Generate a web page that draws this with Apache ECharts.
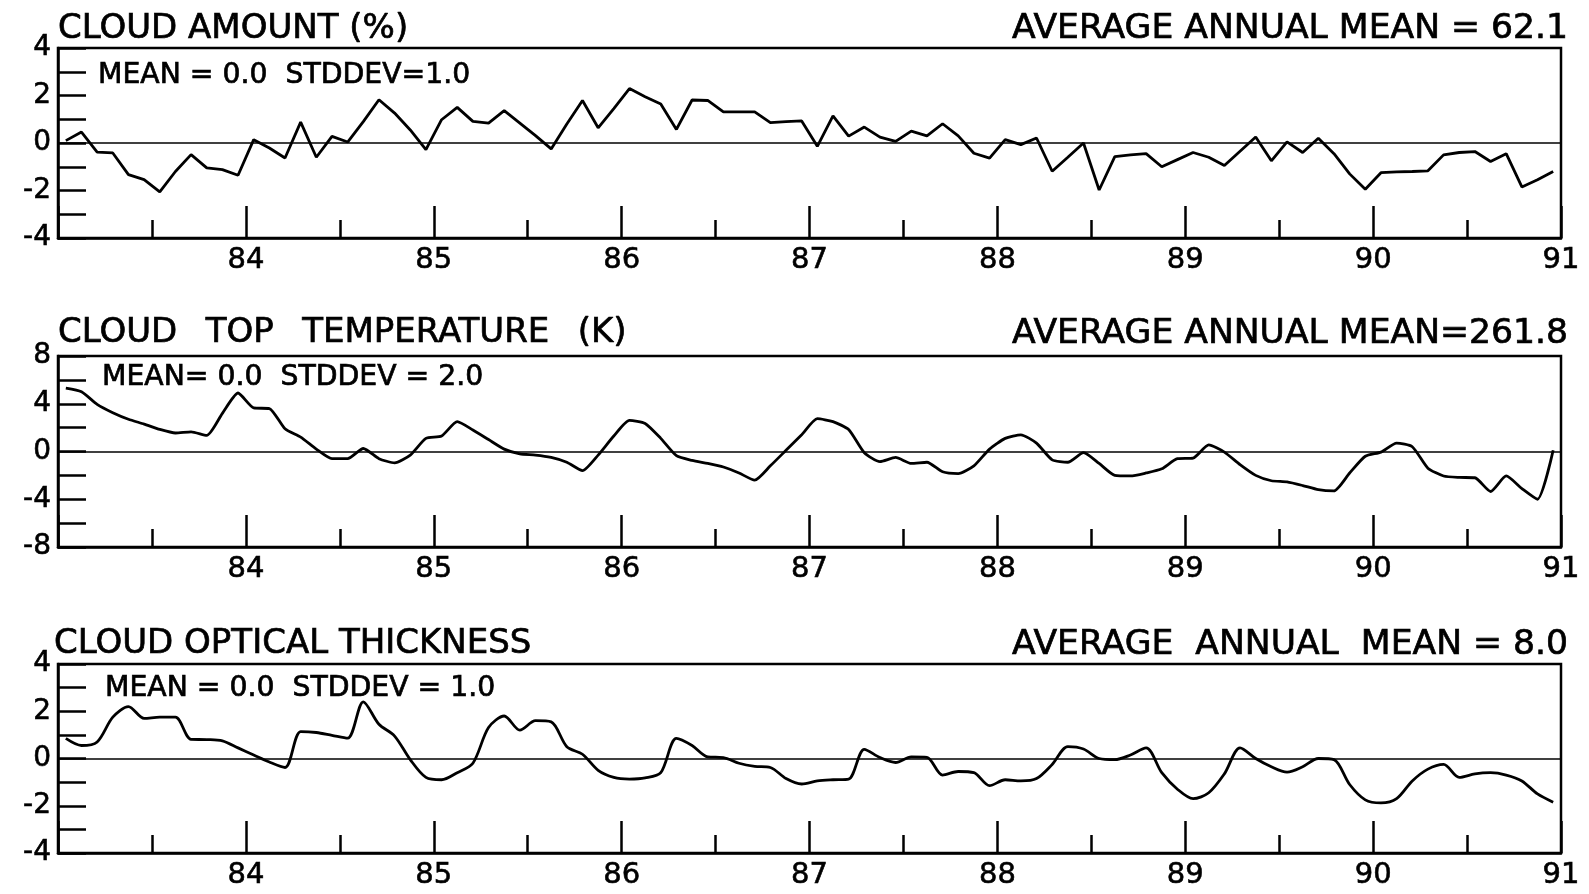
<!DOCTYPE html>
<html><head><meta charset="utf-8">
<script src="https://cdn.jsdelivr.net/npm/echarts@6/dist/echarts.min.js"></script>
<style>html,body{margin:0;padding:0;background:#fff;}#c{width:1589px;height:894px;}</style>
</head><body><div id="c"></div>
<script>
// ---- data ----
const startYear = 83;          // axis starts at 1983.0, monthly mid-month samples
const endYear = 91;
const yearLabels = ['84', '85', '86', '87', '88', '89', '90', '91'];

const cloudAmount = [
  0.1, 0.46, -0.38, -0.42, -1.33, -1.54, -2.06, -1.2, -0.49, -1.05,
  -1.12, -1.36, 0.14, -0.21, -0.63, 0.88, -0.6, 0.28, 0.04, 0.9,
  1.82, 1.26, 0.55, -0.28, 0.98, 1.5, 0.91, 0.84, 1.36, 0.84,
  0.31, -0.25, 0.8, 1.79, 0.64, 1.45, 2.29, 1.95, 1.64, 0.57,
  1.81, 1.79, 1.31, 1.31, 1.31, 0.86, 0.9, 0.93, -0.14, 1.14,
  0.29, 0.67, 0.25, 0.07, 0.5, 0.3, 0.81, 0.3, -0.43, -0.64,
  0.14, -0.07, 0.21, -1.19, -0.6, 0.0, -1.98, -0.57, -0.5, -0.45,
  -1.0, -0.7, -0.4, -0.6, -0.95, -0.35, 0.25, -0.75, 0.05, -0.4,
  0.2, -0.45, -1.3, -1.95, -1.25, -1.22, -1.2, -1.17, -0.5, -0.4,
  -0.36, -0.78, -0.45, -1.85, -1.55, -1.2
];
const cloudTopTemp = [
  5.3, 5.0, 3.95, 3.25, 2.7, 2.3, 1.85, 1.55, 1.65, 1.35,
  3.2, 4.9, 3.65, 3.6, 1.9, 1.2, 0.2, -0.6, -0.6, 0.25,
  -0.6, -0.95, -0.3, 1.1, 1.3, 2.5, 1.8, 1.0, 0.2, -0.2,
  -0.3, -0.5, -0.9, -1.6, -0.3, 1.3, 2.6, 2.35, 1.1, -0.35,
  -0.75, -1.0, -1.3, -1.8, -2.4, -1.2, 0.1, 1.4, 2.75, 2.5,
  1.84, -0.1, -0.85, -0.5, -1.0, -0.9, -1.7, -1.85, -1.2, 0.2,
  1.1, 1.4, 0.7, -0.7, -0.9, -0.1, -1.0, -2.0, -2.05, -1.8,
  -1.45, -0.6, -0.55, 0.55, -0.05, -1.1, -2.0, -2.45, -2.55, -2.85,
  -3.2, -3.3, -1.8, -0.4, -0.05, 0.7, 0.4, -1.4, -2.05, -2.17,
  -2.2, -3.35, -2.05, -3.1, -4.0, 0.1
];
const opticalThickness = [
  0.85, 0.55, 0.7, 1.75, 2.2, 1.7, 1.75, 1.75, 0.81, 0.8,
  0.75, 0.45, 0.15, -0.15, -0.38, 1.14, 1.1, 0.98, 0.86, 2.4,
  1.45, 0.95, -0.05, -0.8, -0.9, -0.6, -0.2, 1.31, 1.8, 1.2,
  1.6, 1.55, 0.5, 0.18, -0.5, -0.8, -0.87, -0.82, -0.6, 0.85,
  0.55, 0.07, 0.04, -0.2, -0.33, -0.38, -0.85, -1.08, -0.95, -0.9,
  -0.87, 0.39, 0.04, -0.17, 0.07, 0.05, -0.7, -0.55, -0.6, -1.15,
  -0.9, -0.95, -0.85, -0.25, 0.5, 0.4, 0.0, -0.05, 0.15, 0.45,
  -0.6, -1.3, -1.7, -1.45, -0.65, 0.45, 0.0, -0.35, -0.58, -0.35,
  0.0, -0.05, -1.1, -1.75, -1.88, -1.7, -0.95, -0.45, -0.25, -0.8,
  -0.65, -0.6, -0.7, -0.95, -1.5, -1.85
];

const panelTitles = ['CLOUD AMOUNT (%)', 'CLOUD \u2009 TOP \u2009 TEMPERATURE \u2009 (K)', 'CLOUD OPTICAL THICKNESS'];
const annualMeans = ['AVERAGE ANNUAL MEAN = 62.1', 'AVERAGE ANNUAL MEAN=261.8', 'AVERAGE  ANNUAL  MEAN = 8.0'];
const statsLabels = ['MEAN = 0.0  STDDEV=1.0', 'MEAN= 0.0  STDDEV = 2.0', 'MEAN = 0.0  STDDEV = 1.0'];
const yLimits = [4, 8, 4];
const yTickSteps = [1, 2, 1];
const yLabelSteps = [2, 4, 2];

// ---- layout / style ----
const FONT = '"DejaVu Sans", sans-serif';
const gridTops = [48, 356, 664];
const gridHeights = [190, 191, 189];
const gridLeft = 58, gridWidth = 1503;
const titleY = [29, 333, 644];
const rightTitleY = [29, 334, 645];
const titleX = [58, 58, 54];
const statsPos = [[98, 76], [102, 378], [105, 689]];
const seriesData = [cloudAmount, cloudTopTemp, opticalThickness];
const smoothness = [false, 0.2, 0.3];

const toPairs = arr => arr.map((v, i) => [startYear + (i + 0.5) / 12, v]);

const grids = [], xAxes = [], yAxes = [], series = [], graphics = [];
for (let p = 0; p < 3; p++) {
  grids.push({ left: gridLeft, top: gridTops[p], width: gridWidth, height: gridHeights[p],
    show: true, borderColor: '#000', borderWidth: 2.5, backgroundColor: 'transparent' });
  xAxes.push({
    type: 'value', gridIndex: p, min: startYear, max: endYear, interval: 1,
    axisLine: { show: true, onZero: false, lineStyle: { color: '#000', width: 2.5 } },
    axisTick: { show: true, inside: true, length: 32, lineStyle: { color: '#000', width: 2.5 } },
    minorTick: { show: true, splitNumber: 2, length: 18, lineStyle: { color: '#000', width: 2.5 } },
    splitLine: { show: false }, minorSplitLine: { show: false },
    axisLabel: { show: true, margin: 8, color: '#000', fontSize: 29, fontFamily: FONT,
      textBorderColor: '#000', textBorderWidth: 0.6,
      formatter: v => { const k = Math.round(v) - 84; return (Math.abs(v - Math.round(v)) < 1e-6 && k >= 0) ? yearLabels[k] : ''; } }
  });
  const lim = yLimits[p], ls = yLabelSteps[p];
  yAxes.push({
    type: 'value', gridIndex: p, min: -lim, max: lim, interval: yTickSteps[p],
    axisLine: { show: true, onZero: false, lineStyle: { color: '#000', width: 2.5 } },
    axisTick: { show: true, inside: true, length: 28, lineStyle: { color: '#000', width: 2.5 } },
    splitLine: { show: false },
    axisLabel: { show: true, margin: 7, color: '#000', fontSize: 28, fontFamily: FONT,
      textBorderColor: '#000', textBorderWidth: 0.6,
      formatter: v => (Math.round(v) % ls === 0 ? String(Math.round(v)) : '') }
  });
  series.push({
    type: 'line', xAxisIndex: p, yAxisIndex: p, data: toPairs(seriesData[p]),
    showSymbol: false, smooth: smoothness[p], animation: false,
    lineStyle: { color: '#000', width: 2.8 },
    markLine: { silent: true, symbol: 'none', label: { show: false }, animation: false,
      lineStyle: { color: '#000', width: 1.6, type: 'solid' }, data: [{ yAxis: 0 }] }
  });
  graphics.push({ type: 'text', x: titleX[p], y: titleY[p],
    style: { text: panelTitles[p], font: '34px ' + FONT, fill: '#000', stroke: '#000', lineWidth: 0.7,
      align: 'left', verticalAlign: 'middle' } });
  graphics.push({ type: 'text', x: 1568, y: rightTitleY[p],
    style: { text: annualMeans[p], font: '34.6px ' + FONT, fill: '#000', stroke: '#000', lineWidth: 0.7,
      align: 'right', verticalAlign: 'middle' } });
  graphics.push({ type: 'text', x: statsPos[p][0], y: statsPos[p][1],
    style: { text: statsLabels[p], font: '28.3px ' + FONT, fill: '#000', stroke: '#000', lineWidth: 0.7,
      align: 'left', verticalAlign: 'middle' } });
}

const chart = echarts.init(document.getElementById('c'), null, { renderer: 'canvas' });
chart.setOption({
  backgroundColor: '#fff',
  animation: false,
  grid: grids, xAxis: xAxes, yAxis: yAxes, series: series,
  graphic: graphics
});
</script>
</body></html>
